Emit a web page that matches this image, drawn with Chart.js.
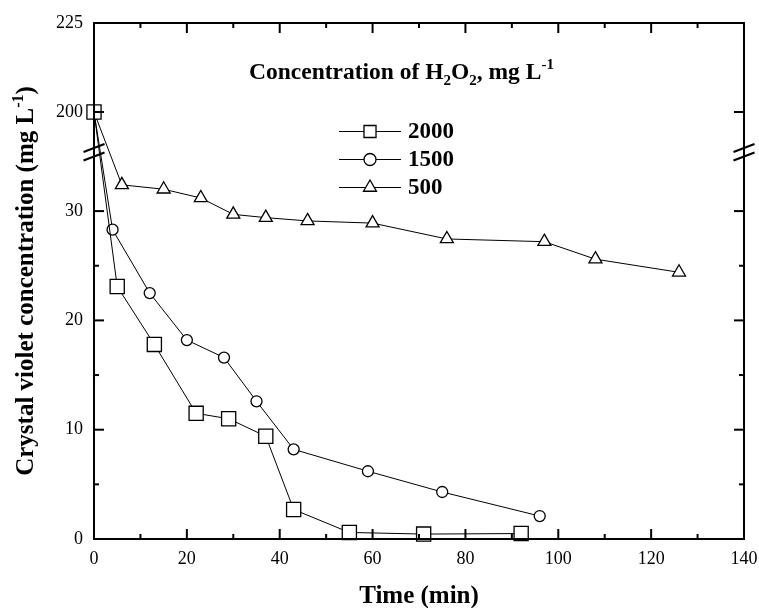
<!DOCTYPE html>
<html><head><meta charset="utf-8">
<script src="https://cdn.jsdelivr.net/npm/chart.js@4/dist/chart.umd.min.js"></script>
<style>html,body{margin:0;padding:0;background:#fff;}#wrap{width:759px;height:608px;}</style>
</head><body><div id="wrap"><canvas id="c" width="759" height="608"></canvas></div>
<script>
// ---- data ----
const seriesLabels = ['2000', '1500', '500'];
const time2000 = [0, 5, 13, 22, 29, 37, 43, 55, 71, 92];
const conc2000 = [200, 23.1, 17.8, 11.5, 11.0, 9.4, 2.7, 0.6, 0.45, 0.5];
const time1500 = [0, 4, 12, 20, 28, 35, 43, 59, 75, 96];
const conc1500 = [200, 28.3, 22.5, 18.2, 16.6, 12.6, 8.2, 6.2, 4.3, 2.1];
const time500 = [0, 6, 15, 23, 30, 37, 46, 60, 76, 97, 108, 126];
const conc500 = [200, 32.4, 32.0, 31.2, 29.7, 29.4, 29.1, 28.9, 27.45, 27.2, 25.6, 24.4];
const xMajorTicks = [0, 20, 40, 60, 80, 100, 120, 140];
const xMinorTicks = [10, 30, 50, 70, 90, 110, 130];
const yMajorTicks = [0, 10, 20, 30, 200, 225];
const yMinorTicks = [5, 15, 25];
const yBreak = [35, 190];

const SERIF = "'Liberation Serif','Times New Roman',serif";
const LOW_FRAC = 0.7414, HIGH_FRAC = 0.7585;

class BrokenLinearScale extends Chart.LinearScale {
  buildTicks() {
    return [...yMajorTicks, ...yMinorTicks].sort((a, b) => a - b).map(v => ({ value: v }));
  }
  _dec(v) {
    const lo = yBreak[0], hi = yBreak[1], min = this.min, max = this.max;
    if (v <= lo) return (v - min) / (lo - min) * LOW_FRAC;
    if (v >= hi) return HIGH_FRAC + (v - hi) / (max - hi) * (1 - HIGH_FRAC);
    return LOW_FRAC + (v - lo) / (hi - lo) * (HIGH_FRAC - LOW_FRAC);
  }
  getPixelForValue(v) { return this.getPixelForDecimal(this._dec(v)); }
  getValueForPixel(p) {
    const d = this.getDecimalForPixel(p);
    const lo = yBreak[0], hi = yBreak[1], min = this.min, max = this.max;
    if (d <= LOW_FRAC) return min + d / LOW_FRAC * (lo - min);
    if (d >= HIGH_FRAC) return hi + (d - HIGH_FRAC) / (1 - HIGH_FRAC) * (max - hi);
    return lo + (d - LOW_FRAC) / (HIGH_FRAC - LOW_FRAC) * (hi - lo);
  }
}
BrokenLinearScale.id = 'brokenLinear';
BrokenLinearScale.defaults = Chart.LinearScale.defaults;
Chart.register(BrokenLinearScale);

const toXY = (xs, ys) => xs.map((x, i) => ({ x: x, y: ys[i] }));
const styles = [
  { pointStyle: 'rect', pointRadius: 10, legendRadius: 8.5 },
  { pointStyle: 'circle', pointRadius: 5.5, legendRadius: 6 },
  { pointStyle: 'triangle', pointRadius: 7.5, legendRadius: 7.5 }
];
const allData = [toXY(time2000, conc2000), toXY(time1500, conc1500), toXY(time500, conc500)];

const datasets = allData.map((d, i) => ({
  label: seriesLabels[i],
  data: d,
  borderColor: '#000',
  borderWidth: 1,
  pointStyle: styles[i].pointStyle,
  pointRadius: styles[i].pointRadius,
  pointBorderWidth: 1.3,
  pointBorderColor: '#000',
  pointBackgroundColor: '#fff',
  tension: 0,
  fill: false,
  clip: false
}));

function drawRich(ctx, parts, x, y) {
  let cx = x;
  for (const [t, k, f] of parts) {
    ctx.font = f;
    const dy = k === 'sub' ? 6 : (k === 'sup' ? -10 : 0);
    ctx.fillText(t, cx, y + dy);
    cx += ctx.measureText(t).width;
  }
}
function richWidth(ctx, parts) {
  let w = 0;
  for (const [t, k, f] of parts) { ctx.font = f; w += ctx.measureText(t).width; }
  return w;
}

const decor = {
  id: 'decor',
  afterDraw(chart) {
    const ctx = chart.ctx, a = chart.chartArea;
    const xs = chart.scales.x, ys = chart.scales.y;
    ctx.save();
    ctx.strokeStyle = '#000';
    ctx.fillStyle = '#000';
    ctx.lineWidth = 2;
    ctx.lineCap = 'butt';
    ctx.strokeRect(a.left, a.top, a.right - a.left, a.bottom - a.top);
    const tick = (x1, y1, x2, y2) => { ctx.beginPath(); ctx.moveTo(x1, y1); ctx.lineTo(x2, y2); ctx.stroke(); };
    xMajorTicks.concat(xMinorTicks).forEach(v => {
      const len = xMajorTicks.includes(v) ? 10 : 5;
      const px = xs.getPixelForValue(v);
      tick(px, a.bottom, px, a.bottom - len);
      tick(px, a.top, px, a.top + len);
    });
    yMajorTicks.concat(yMinorTicks).forEach(v => {
      const len = yMajorTicks.includes(v) ? 10 : 5;
      const py = ys.getPixelForValue(v);
      tick(a.left, py, a.left + len, py);
      tick(a.right, py, a.right - len, py);
    });
    const ym = (ys.getPixelForValue(yBreak[0]) + ys.getPixelForValue(yBreak[1])) / 2;
    [a.left, a.right].forEach(ax => {
      [-4, 4.5].forEach(off => {
        ctx.beginPath();
        ctx.moveTo(ax - 10.5, ym + off + 4);
        ctx.lineTo(ax + 10.5, ym + off - 4);
        ctx.stroke();
      });
    });
    const bold23 = 'bold 23px ' + SERIF;
    chart.data.datasets.forEach((ds, i) => {
      const y = 131.5 + i * 28;
      ctx.lineWidth = 1;
      ctx.beginPath(); ctx.moveTo(339, y); ctx.lineTo(401, y); ctx.stroke();
      ctx.fillStyle = '#fff';
      ctx.lineWidth = 1.3;
      Chart.helpers.drawPoint(ctx, { pointStyle: styles[i].pointStyle, radius: styles[i].legendRadius, rotation: 0, borderWidth: 1.3 }, 370, y);
      ctx.fillStyle = '#000';
      ctx.font = bold23;
      ctx.textBaseline = 'middle';
      ctx.textAlign = 'left';
      ctx.fillText(ds.label, 408, y + 1);
    });
    ctx.textBaseline = 'alphabetic';
    ctx.textAlign = 'left';
    const fT = 'bold 23.5px ' + SERIF, fS = 'bold 15px ' + SERIF;
    drawRich(ctx, [['Concentration of H', 'n', fT], ['2', 'sub', fS], ['O', 'n', fT], ['2', 'sub', fS], [', mg L', 'n', fT], ['-1', 'sup', fS]], 249, 79);
    ctx.font = 'bold 25px ' + SERIF;
    ctx.textAlign = 'center';
    ctx.fillText('Time (min)', (a.left + a.right) / 2, 603);
    const fY = 'bold 25px ' + SERIF, fYs = 'bold 16px ' + SERIF;
    const yParts = [['Crystal violet concentration (mg L', 'n', fY], ['-1', 'sup', fYs], [')', 'n', fY]];
    ctx.textAlign = 'left';
    const w = richWidth(ctx, yParts);
    ctx.translate(33, (a.top + a.bottom) / 2);
    ctx.rotate(-Math.PI / 2);
    drawRich(ctx, yParts, -w / 2, 0);
    ctx.restore();
  }
};

new Chart(document.getElementById('c'), {
  type: 'line',
  data: { datasets: datasets },
  options: {
    responsive: false,
    animation: false,
    devicePixelRatio: 1,
    layout: { padding: { left: 0, top: 23, right: 15, bottom: 0 } },
    plugins: { legend: { display: false }, tooltip: { enabled: false } },
    scales: {
      x: {
        type: 'linear', min: 0, max: 140,
        grid: { display: false, drawTicks: false },
        border: { display: false },
        ticks: {
          stepSize: 10, autoSkip: false, maxRotation: 0, padding: 9,
          color: '#000', font: { family: SERIF, size: 18 },
          callback: v => xMajorTicks.includes(v) ? String(v) : ''
        },
        afterFit: s => { s.height = 69; s.paddingLeft = 0; s.paddingRight = 0; }
      },
      y: {
        type: 'brokenLinear', min: 0, max: 225,
        grid: { display: false, drawTicks: false },
        border: { display: false },
        ticks: {
          autoSkip: false, padding: 11,
          color: '#000', font: { family: SERIF, size: 18 },
          callback: v => yMajorTicks.includes(v) ? String(v) : ''
        },
        afterFit: s => { s.width = 94; s.paddingTop = 0; s.paddingBottom = 0; }
      }
    }
  },
  plugins: [decor]
});
</script></body></html>
